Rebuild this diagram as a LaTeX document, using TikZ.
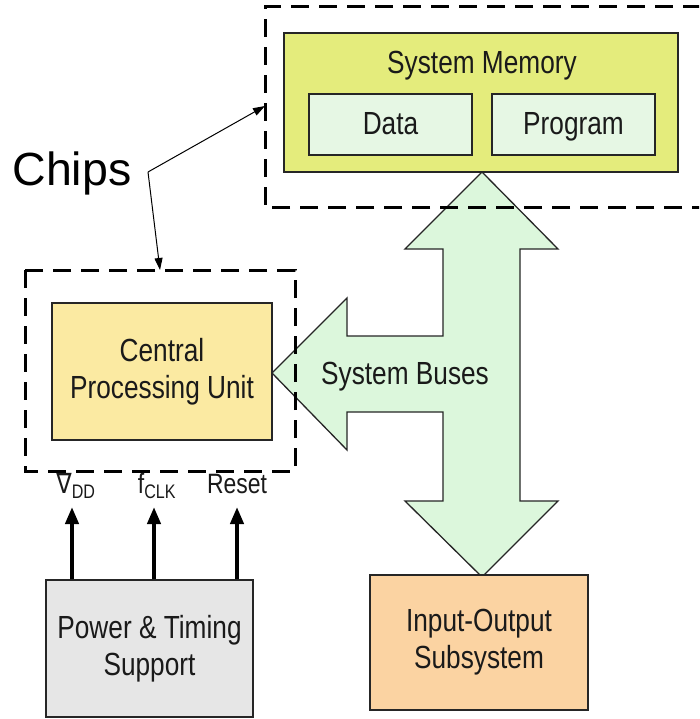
\documentclass[tikz,border=0pt]{standalone}
\usepackage{fontspec}
\setmainfont{Liberation Sans}[FakeStretch=0.82]
\newfontfamily\chipsfont{Liberation Sans}
\newfontfamily\symfont{DejaVu Sans}[FakeStretch=0.82]
\usetikzlibrary{arrows.meta}
\definecolor{memfill}{HTML}{E4EC7C}
\definecolor{subfill}{HTML}{E6F7E4}
\definecolor{cpufill}{HTML}{FBEAA2}
\definecolor{busfill}{HTML}{DCF7DC}
\definecolor{iofill}{HTML}{FBD3A2}
\definecolor{pwrfill}{HTML}{E6E6E6}
\definecolor{txt}{HTML}{1A1A1A}
\tikzset{
  blk/.style={draw=black!85, line width=1.3pt, inner sep=0pt, text=txt, align=center,
    font=\fontsize{32}{35}\selectfont},
  subblk/.style={blk, text height=25pt, text depth=4pt},
  chipbox/.style={draw=black, line width=3pt, dash pattern=on 18pt off 10pt},
  sig/.style={-{Triangle[length=17pt,width=13pt]}, line width=4pt},
  lbl/.style={text=txt, font=\fontsize{28}{30}\selectfont, inner sep=0pt},
  ptr/.style={-{Triangle[length=12pt,width=8pt]}, line width=1pt},
}
\begin{document}
\begin{tikzpicture}[x=1pt,y=-1pt]
\useasboundingbox (0,0) rectangle (699,719);
\clip (0,0) rectangle (699,719);
\fill[white] (0,0) rectangle (699,719);

% memory
\node[blk, fill=memfill, minimum width=394pt, minimum height=139pt] (mem) at (481,102.5) {};
\node[text=txt, font=\fontsize{32}{35}\selectfont] (memt) at (482,66) {System Memory};
\node[subblk, fill=subfill, minimum width=163pt, minimum height=61pt] (data) at (390.5,124.5) {Data};
\node[subblk, fill=subfill, minimum width=163pt, minimum height=61pt] (prog) at (573.5,124.5) {Program};

% CPU
\node[blk, fill=cpufill, minimum width=220pt, minimum height=137pt] (cpu) at (162,371.5) {Central\\[2pt]Processing Unit};

% bus arrow
\draw[line width=1.3pt, fill=busfill, draw=black!85]
  (482,172) -- (558,249) -- (520,249) -- (520,501) -- (558,501) -- (482,577)
  -- (405,501) -- (443,501) -- (443,412) -- (347,412) -- (347,450) -- (272,373)
  -- (347,298) -- (347,336) -- (443,336) -- (443,249) -- (405,249) -- cycle;
\node[text=txt, font=\fontsize{32}{35}\selectfont] (bus) at (405,377) {System Buses};

% IO
\node[blk, fill=iofill, minimum width=218pt, minimum height=135pt] (io) at (479,642.5) {Input-Output\\[2pt]Subsystem};

% power
\node[blk, fill=pwrfill, minimum width=207pt, minimum height=137pt] (pwr) at (149.5,648.5) {Power \& Timing\\[2pt]Support};

% chip boxes
\draw[chipbox] (710,208) -- (265,208) -- (265,7) -- (710,7);
\draw[chipbox] (25,270) rectangle (295,471);
\coordinate (chiptop) at (265,106);
\coordinate (chipcpu) at (160,270);

% signals
\node[lbl] (vdd) at (76,486) {{\symfont ∇}\textsubscript{DD}};
\node[lbl] (fclk) at (157,486) {f\textsubscript{CLK}};
\node[lbl] (rst) at (237,484) {Reset};
\draw[sig] (pwr.north -| 72,0) -- (72,507);
\draw[sig] (pwr.north -| 154,0) -- (154,507);
\draw[sig] (pwr.north -| 237,0) -- (237,507);

% chips label
\node[text=black, font=\chipsfont\fontsize{46.5}{50}\selectfont, inner sep=0pt] (chips) at (72,173) {Chips};
\coordinate (fork) at (148,172);
\draw[ptr] (fork) -- (chiptop);
\draw[ptr] (fork) -- (chipcpu);
\end{tikzpicture}
\end{document}
